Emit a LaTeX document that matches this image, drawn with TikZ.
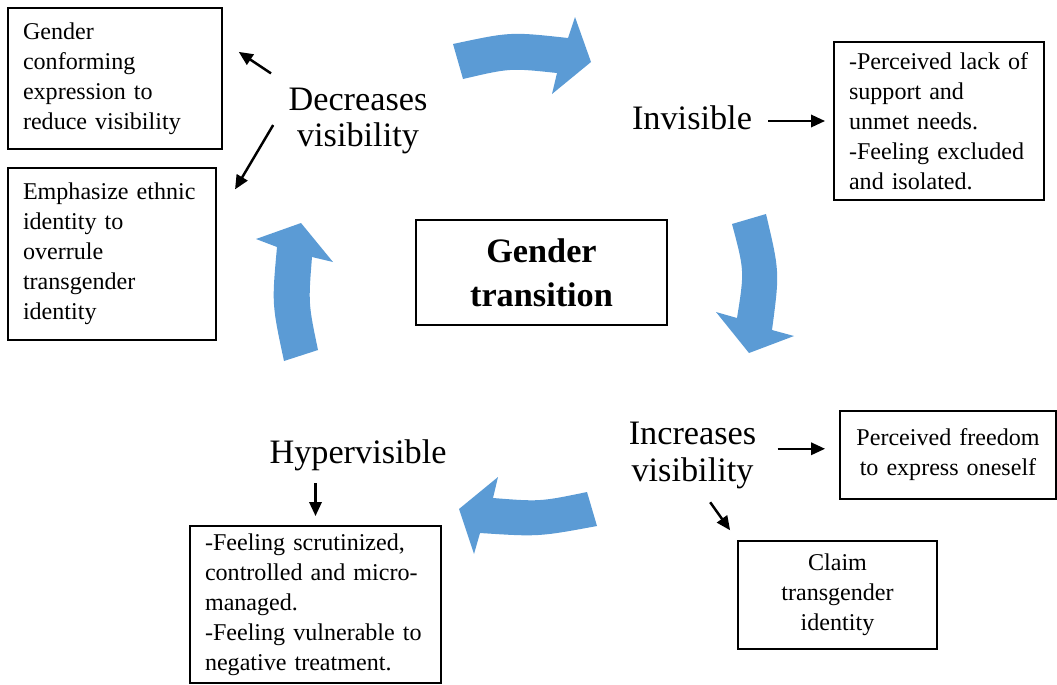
\documentclass[tikz,border=0pt]{standalone}
\usepackage{fontspec}
\setmainfont{Liberation Serif}
\usetikzlibrary{arrows.meta}
\definecolor{cycleblue}{RGB}{91,155,213}

\begin{document}
\begin{tikzpicture}[x=0.02cm, y=-0.02cm,
  box/.style={draw, line width=1.1pt, inner xsep=0.3cm, inner ysep=0pt,
    font=\fontsize{13.7}{17.1}\selectfont},
  lbl/.style={inner sep=0pt, align=center, font=\fontsize{19.5}{21}\selectfont},
  pointer/.style={line width=1.4pt, -{Triangle[length=8pt,width=7pt]}},
  bigarrow/.style={fill=cycleblue, draw=none}]
  \useasboundingbox (0,0) rectangle (1057,684);

  \node[box, align=left, text width=3.68cm, minimum height=2.82cm] (gc) at (115,78.5)
    {Gender\\conforming\\expression to\\reduce visibility};
  \node[box, align=left, text width=3.56cm, minimum height=3.44cm] (eth) at (112,254)
    {Emphasize ethnic\\identity to\\overrule\\transgender\\identity};
  \node[box, align=left, text width=3.60cm, minimum height=3.16cm] (perc) at (939,121)
    {-Perceived lack of\\support and\\unmet needs.\\-Feeling excluded\\and isolated.};
  \node[box, align=center, text width=3.72cm, minimum height=1.76cm] (free) at (948,455)
    {Perceived freedom\\to express oneself};
  \node[box, align=center, text width=3.38cm, minimum height=2.16cm] (claim) at (837.5,595)
    {Claim\\transgender\\identity};
  \node[box, align=left, text width=4.42cm, minimum height=3.14cm] (scrut) at (315.5,604.5)
    {-Feeling scrutinized,\\controlled and micro-\\managed.\\-Feeling vulnerable to\\negative treatment.};
  \node[box, align=center, text width=4.42cm, minimum height=2.10cm,
    font=\fontsize{19.5}{25}\selectfont\bfseries] (gt) at (541.5,272.5)
    {Gender\\transition};

  \node[lbl] (dec) at (358,121) {Decreases\\visibility};
  \node[lbl] (inv) at (692,118) {Invisible};
  \node[lbl] (inc) at (692.5,455.5) {Increases\\visibility};
  \node[lbl] (hyp) at (358,455) {Hypervisible};

  \fill[bigarrow] (453,44) .. controls (510.5,31.7) .. (568,38) -- (575,17) -- (591,62)
    -- (552,94) -- (557,73) .. controls (510,68) .. (463,79) -- cycle;
  \fill[bigarrow] (732,224) -- (766,214) .. controls (779.7,272) .. (772,330) -- (794,336)
    -- (749,353) -- (716,312) -- (737,318) .. controls (744.5,271) .. (732,224) -- cycle;
  \fill[bigarrow] (587,492) .. controls (540,501.7) .. (493,498) -- (498,477) -- (459,509)
    -- (474,554) -- (480,533) .. controls (538.5,536.8) .. (597,526) -- cycle;
  \fill[bigarrow] (284,361) -- (318,350) .. controls (308.3,303.5) .. (312,257) -- (333,262)
    -- (301,223) -- (256,239) -- (277,247) .. controls (271.8,304) .. (284,361) -- cycle;

  \draw[pointer, shorten <=0.5cm, shorten >=0.38cm] (dec.153) -- (gc.19);
  \draw[pointer, shorten <=0.59cm, shorten >=0.71cm] (dec.163) -- (eth.18);
  \draw[pointer, shorten <=0.32cm, shorten >=0.16cm] (inv.east |- perc.west) -- (perc.west);
  \draw[pointer, shorten <=0.42cm, shorten >=0.28cm] (inc.6) -- (inc.6 -| free.west);
  \draw[pointer, shorten <=0.32cm, shorten >=0.24cm] (inc.284) -- (claim.north west);
  \draw[pointer, shorten <=0.25cm, shorten >=0.18cm] (hyp.south -| scrut.north) -- (scrut.north);
\end{tikzpicture}
\end{document}
